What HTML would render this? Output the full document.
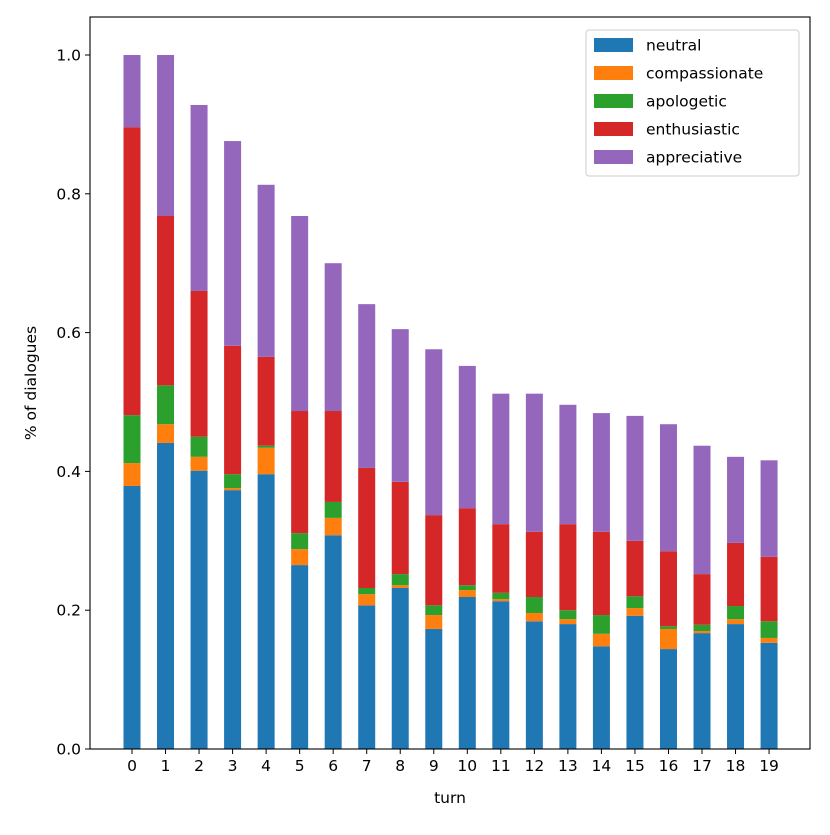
<!DOCTYPE html>
<html><head><meta charset="utf-8"><style>
html,body{margin:0;padding:0;background:#fff;}
svg text{font-family:"DejaVu Sans","Liberation Sans",sans-serif;fill:#000;}
</style></head><body>
<svg id="chart" width="830" height="830" viewBox="0 0 830 830" xmlns="http://www.w3.org/2000/svg">
<rect width="830" height="830" fill="#fff"/>
<g id="bars"></g>
<g id="axes"></g>
<g id="legend"></g>
</svg>
<script>
const turns = [0,1,2,3,4,5,6,7,8,9,10,11,12,13,14,15,16,17,18,19];
const seriesNames = ["neutral","compassionate","apologetic","enthusiastic","appreciative"];
const seriesColors = ["#1f77b4","#ff7f0e","#2ca02c","#d62728","#9467bd"];
const neutral = [0.379,0.441,0.401,0.373,0.396,0.265,0.308,0.207,0.232,0.173,0.219,0.213,0.184,0.180,0.148,0.192,0.144,0.167,0.180,0.153];
const compassionate = [0.033,0.027,0.020,0.003,0.038,0.023,0.025,0.016,0.004,0.020,0.010,0.003,0.012,0.007,0.018,0.011,0.029,0.003,0.007,0.007];
const apologetic = [0.069,0.056,0.029,0.020,0.003,0.023,0.023,0.009,0.016,0.014,0.007,0.009,0.023,0.013,0.027,0.017,0.004,0.009,0.019,0.024];
const enthusiastic = [0.415,0.244,0.210,0.185,0.128,0.176,0.131,0.173,0.133,0.130,0.111,0.099,0.094,0.124,0.120,0.080,0.108,0.073,0.091,0.093];
const appreciative = [0.104,0.232,0.268,0.295,0.248,0.281,0.213,0.236,0.220,0.239,0.205,0.188,0.199,0.172,0.171,0.180,0.183,0.185,0.124,0.139];
const yTicks = [0.0,0.2,0.4,0.6,0.8,1.0];
const yTickLabels = ["0.0","0.2","0.4","0.6","0.8","1.0"];

const NS="http://www.w3.org/2000/svg";
const L=90,R=810,T=17,B=749;
const xScale = i => 132 + 33.53*i;
const yScale = v => 749 - v*694;
const barW = 17;
function mk(tag, attrs, parent){const e=document.createElementNS(NS,tag);for(const k in attrs)e.setAttribute(k,attrs[k]);parent.appendChild(e);return e;}
const series=[neutral,compassionate,apologetic,enthusiastic,appreciative];
const gb=document.getElementById('bars');
turns.forEach((t,i)=>{
  let cum=0;
  series.forEach((s,si)=>{
    const y0=yScale(cum), y1=yScale(cum+s[i]);
    const r=mk('rect',{x:xScale(i)-barW/2,y:y1,width:barW,height:Math.max(0,y0-y1),fill:seriesColors[si]},gb);
    
    
    cum+=s[i];
  });
});
const ga=document.getElementById('axes');
const frame=mk('rect',{x:L,y:T,width:R-L,height:B-T,fill:'none',stroke:'#000','stroke-width':1.1},ga);


yTicks.forEach((v,i)=>{
  const y=yScale(v);
  mk('line',{x1:L-5,x2:L,y1:y,y2:y,stroke:'#000','stroke-width':1},ga);
  const tx=mk('text',{x:L-9,y:y+5.5,'text-anchor':'end','font-size':15.5},ga);
  tx.textContent=yTickLabels[i];
  
  
});
turns.forEach((t,i)=>{
  const x=xScale(i);
  mk('line',{x1:x,x2:x,y1:B,y2:B+5,stroke:'#000','stroke-width':1},ga);
  const tx=mk('text',{x:x,y:B+22,'text-anchor':'middle','font-size':15.5},ga);
  tx.textContent=String(t);
  
  
});
const xl=mk('text',{x:450,y:803,'text-anchor':'middle','font-size':15.5},ga);
xl.textContent='turn';


const yl=mk('text',{x:36,y:383,'text-anchor':'middle','font-size':15.5,transform:'rotate(-90 36 383)'},ga);
yl.textContent='% of dialogues';


const gl=document.getElementById('legend');
const box=mk('rect',{x:586,y:30,width:213,height:146,rx:3,fill:'#fff',stroke:'#ccc','stroke-width':1},gl);


seriesNames.forEach((n,i)=>{
  const y=45+28*i;
  const sw=mk('rect',{x:594,y:y-7,width:39,height:14,fill:seriesColors[i]},gl);
  
  
  const tx=mk('text',{x:646,y:y+5.5,'font-size':15.5},gl);
  tx.textContent=n;
  
  
});
</script>
</body></html>
